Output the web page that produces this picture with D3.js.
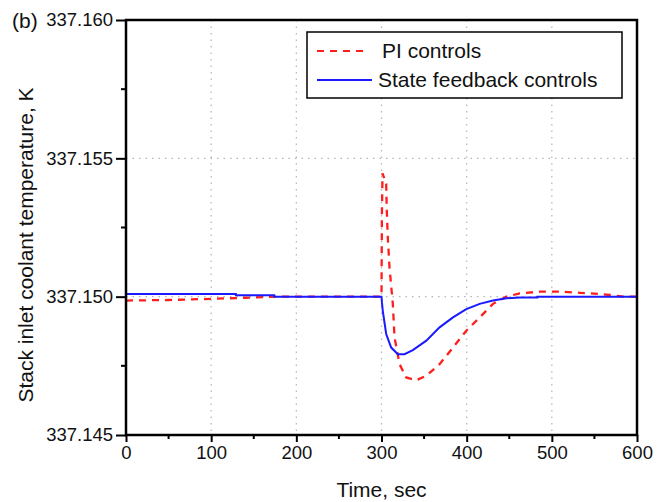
<!DOCTYPE html>
<html>
<head>
<meta charset="utf-8">
<script src="https://cdn.jsdelivr.net/npm/d3@7"></script>
<style>
  body { margin: 0; background: #fff; }
  text { font-family: "Liberation Sans", Arial, sans-serif; fill: #111; }
</style>
</head>
<body>
<div id="chart"></div>
<script>
const xTicks = [0, 100, 200, 300, 400, 500, 600];
const yTicks = [337.145, 337.150, 337.155, 337.160];

const seriesNames = ["PI controls", "State feedback controls"];

// PI controls (red dashed)
const piTime = [0, 50, 100, 140, 175, 300, 300.5, 301.2, 305.5, 306.2, 307.4, 309.4, 313.3, 315.3, 321.2, 329, 340.8, 352.6, 368.2, 383.9, 399.6, 415.3, 430.9, 446.7, 462.4, 485.9, 509.4, 532.9, 556.5, 568.2, 585, 600];
const piTemp = [337.14986, 337.14988, 337.14992, 337.14996, 337.15000, 337.15000, 337.15300, 337.15446, 337.15408, 337.15312, 337.15215, 337.15106, 337.14974, 337.14853, 337.14756, 337.14708, 337.14698, 337.14714, 337.14756, 337.14816, 337.14877, 337.14925, 337.14974, 337.15000, 337.15012, 337.15018, 337.15018, 337.15014, 337.15010, 337.15006, 337.15000, 337.15000];

// State feedback controls (blue solid)
const sfTime = [0, 129, 129, 174, 174, 300, 300.5, 301.5, 305.5, 311.4, 319.2, 327, 336.8, 352.6, 368.2, 383.9, 399.6, 415.3, 430.9, 446.7, 462.4, 483, 483, 600];
const sfTemp = [337.15010, 337.15010, 337.15005, 337.15005, 337.15000, 337.15000, 337.14980, 337.14949, 337.14865, 337.14816, 337.14792, 337.14792, 337.14807, 337.14841, 337.14889, 337.14925, 337.14955, 337.14974, 337.14986, 337.14994, 337.14997, 337.14997, 337.15000, 337.15000];

const width = 660;
const height = 502;
const margin = { left: 126, right: 23, top: 20, bottom: 67 };

const svg = d3
	.select("#chart")
	.append("svg")
	.attr("width", width)
	.attr("height", height);

svg.append("rect").attr("width", width).attr("height", height).attr("fill", "#fff");

const x = d3.scaleLinear().domain([0, 600]).range([margin.left, width - margin.right]);
const y = d3.scaleLinear().domain([337.145, 337.160]).range([height - margin.bottom, margin.top]);

// grid
const grid = svg.append("g").attr("stroke", "#b5b5b5").attr("stroke-width", 1.2).attr("stroke-dasharray", "1.5,5");
grid.selectAll(".vg")
	.data(xTicks.slice(1, -1))
	.enter()
	.append("line")
	.attr("x1", (d) => x(d))
	.attr("x2", (d) => x(d))
	.attr("y1", y(337.160))
	.attr("y2", y(337.145));
grid.selectAll(".hg")
	.data(yTicks.slice(1, -1))
	.enter()
	.append("line")
	.attr("x1", x(0))
	.attr("x2", x(600))
	.attr("y1", (d) => y(d))
	.attr("y2", (d) => y(d));

// curves
const line = d3
	.line()
	.x((d) => x(d[0]))
	.y((d) => y(d[1]));

svg.append("path")
	.datum(d3.zip(piTime, piTemp))
	.attr("d", line)
	.attr("fill", "none")
	.attr("stroke", "#ff1e1e")
	.attr("stroke-width", 2.3)
	.attr("stroke-dasharray", "7,6");

svg.append("path")
	.datum(d3.zip(sfTime, sfTemp))
	.attr("d", line)
	.attr("fill", "none")
	.attr("stroke", "#1a1aff")
	.attr("stroke-width", 2);

// axes
const xAxis = svg
	.append("g")
	.attr("transform", `translate(0, ${y(337.145)})`)
	.call(d3.axisBottom(x).tickValues(xTicks).tickSize(7).tickPadding(4).tickFormat(d3.format("d")));
const yAxis = svg
	.append("g")
	.attr("transform", `translate(${x(0)}, 0)`)
	.call(d3.axisLeft(y).tickValues(yTicks).tickSize(10).tickPadding(3).tickFormat(d3.format(".3f")));

[xAxis, yAxis].forEach((a) => {
	a.select(".domain").remove();
	a.selectAll("line").attr("stroke", "#000").attr("stroke-width", 2);
	a.selectAll("text").style("font-size", "18.5px").attr("fill", "#111");
});

// minor ticks
svg.append("g")
	.selectAll("line")
	.data([50, 150, 250, 350, 450, 550])
	.enter()
	.append("line")
	.attr("x1", (d) => x(d))
	.attr("x2", (d) => x(d))
	.attr("y1", y(337.145))
	.attr("y2", y(337.145) + 4)
	.attr("stroke", "#000")
	.attr("stroke-width", 2);
svg.append("g")
	.selectAll("line")
	.data([337.1475, 337.1525, 337.1575])
	.enter()
	.append("line")
	.attr("x1", x(0) - 5)
	.attr("x2", x(0))
	.attr("y1", (d) => y(d))
	.attr("y2", (d) => y(d))
	.attr("stroke", "#000")
	.attr("stroke-width", 2);

// frame
svg.append("rect")
	.attr("x", x(0))
	.attr("y", y(337.160))
	.attr("width", x(600) - x(0))
	.attr("height", y(337.145) - y(337.160))
	.attr("fill", "none")
	.attr("stroke", "#000")
	.attr("stroke-width", 2.5);

// legend
const legend = svg.append("g");
legend.append("rect")
	.attr("x", 307)
	.attr("y", 32)
	.attr("width", 315)
	.attr("height", 66)
	.attr("fill", "#fff")
	.attr("stroke", "#000")
	.attr("stroke-width", 1.5);
const legendRows = legend
	.selectAll(".row")
	.data(seriesNames)
	.enter()
	.append("g")
	.attr("transform", (d, i) => `translate(317, ${51 + i * 29})`);
legendRows
	.append("line")
	.attr("x1", 0)
	.attr("x2", (d, i) => (i === 0 ? 50 : 55))
	.attr("stroke", (d, i) => (i === 0 ? "#ff1e1e" : "#1a1aff"))
	.attr("stroke-width", 2)
	.attr("stroke-dasharray", (d, i) => (i === 0 ? "7,6" : null));
legendRows
	.append("text")
	.attr("x", (d, i) => (i === 0 ? 65 : 61))
	.attr("y", 7)
	.style("font-size", "21px")
	.text((d) => d);

// labels
svg.append("text").attr("x", 12).attr("y", 28).style("font-size", "21px").text("(b)");
svg.append("text")
	.attr("transform", `translate(33, 245) rotate(-90)`)
	.attr("text-anchor", "middle")
	.style("font-size", "21px")
	.text("Stack inlet coolant temperature, K");
svg.append("text")
	.attr("x", (x(0) + x(600)) / 2)
	.attr("y", 497)
	.attr("text-anchor", "middle")
	.style("font-size", "21px")
	.text("Time, sec");
</script>
</body>
</html>
